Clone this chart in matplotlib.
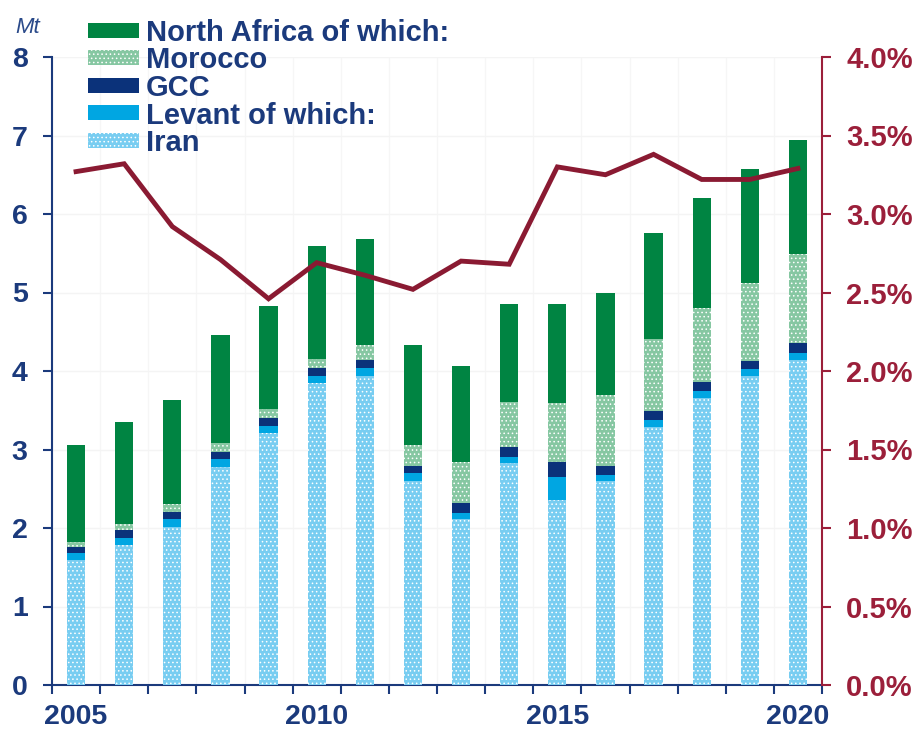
"""
Stacked bars by region (Mt) with share line on a secondary percent axis.
"""
import numpy as np
import matplotlib
matplotlib.use("Agg")
import matplotlib.pyplot as plt
from matplotlib.patches import Rectangle
from matplotlib.ticker import FuncFormatter, MultipleLocator

# ──────────────────────────────────────────────────────────────────────────────
# Data
years = list(range(2005, 2021))
iran = [1.59, 1.78, 2.01, 2.78, 3.21, 3.85, 3.94, 2.60, 2.11, 2.83, 2.36, 2.60,
        3.29, 3.66, 3.93, 4.14]
levant_other = [0.09, 0.09, 0.10, 0.10, 0.09, 0.09, 0.10, 0.10, 0.08, 0.08,
                0.29, 0.07, 0.09, 0.09, 0.10, 0.09]
gcc = [0.08, 0.10, 0.09, 0.09, 0.10, 0.10, 0.10, 0.09, 0.13, 0.12, 0.19, 0.12,
       0.11, 0.11, 0.10, 0.13]
morocco = [0.06, 0.08, 0.11, 0.11, 0.11, 0.11, 0.19, 0.27, 0.52, 0.58, 0.75,
           0.90, 0.92, 0.94, 0.99, 1.13]
north_africa_other = [1.24, 1.30, 1.32, 1.38, 1.32, 1.44, 1.35, 1.27, 1.22,
                      1.24, 1.26, 1.30, 1.35, 1.40, 1.45, 1.45]
share_pct = [3.27, 3.32, 2.92, 2.71, 2.46, 2.69, 2.61, 2.52, 2.70, 2.68, 3.30,
             3.25, 3.38, 3.22, 3.22, 3.29]
year_labels = ["2005", "2010", "2015", "2020"]
legend_labels = ["North Africa of which:", "Morocco", "GCC",
                 "Levant of which:", "Iran"]

# Colours
NAVY = "#1b3a7c"
RED = "#9b1f3a"
LINE_RED = "#8a1a32"
C_NA = "#008442"
C_MOR = "#86c7a2"
C_GCC = "#0b327a"
C_LEV = "#00a6e2"
C_IRAN = "#78cdf1"
# ──────────────────────────────────────────────────────────────────────────────

plt.rcParams["font.family"] = ["Liberation Sans", "DejaVu Sans"]
plt.rcParams["hatch.linewidth"] = 0.6

W, H = 922, 732
fig = plt.figure(figsize=(W / 100, H / 100), dpi=100)
ax = fig.add_axes([52 / W, 1 - 685 / H, 770 / W, 628 / H])

x = np.arange(len(years))
width = 0.38

# stack: Iran, rest of Levant, GCC, Morocco, rest of North Africa
series = [
    (iran, C_IRAN, "...."),
    (levant_other, C_LEV, None),
    (gcc, C_GCC, None),
    (morocco, C_MOR, "...."),
    (north_africa_other, C_NA, None),
]
bottom = np.zeros(len(years))
for vals, col, hatch in series:
    ax.bar(x, vals, width, bottom=bottom, color=col, hatch=hatch,
           edgecolor="white" if hatch else col, linewidth=0, zorder=3)
    bottom += np.array(vals)

ax.set_xlim(-0.5, len(years) - 0.5)
ax.set_ylim(0, 8)
ax.yaxis.set_major_locator(MultipleLocator(1))

# x ticks: labels every 5 years, tick marks between bars
ax.set_xticks([years.index(int(y)) for y in year_labels])
ax.set_xticklabels(year_labels)
ax.set_xticks(np.arange(-0.5, len(years)), minor=True)
ax.tick_params(axis="x", which="major", length=0, pad=14)
ax.tick_params(axis="x", which="minor", length=6.5, width=1.5, color=NAVY,
               direction="out")
ax.tick_params(axis="y", length=6.5, width=1.5, color=NAVY, direction="out",
               pad=11)
for lab in ax.get_xticklabels() + ax.get_yticklabels():
    lab.set_fontsize(20.5)
    lab.set_fontweight("bold")
    lab.set_color(NAVY)

ax.grid(True, which="major", axis="y", color="#f4f4f4", linewidth=1, zorder=0)
ax.grid(True, which="minor", axis="x", color="#f6f6f6", linewidth=1, zorder=0)

for side in ["top", "right"]:
    ax.spines[side].set_visible(False)
ax.spines["left"].set_color(NAVY)
ax.spines["bottom"].set_color(NAVY)
ax.spines["left"].set_linewidth(1.5)
ax.spines["bottom"].set_linewidth(1.5)

# secondary axis: share line
ax2 = ax.twinx()
ax2.plot(x, np.array(share_pct) / 100, color=LINE_RED, linewidth=3.5,
         solid_joinstyle="miter", zorder=5)
ax2.set_ylim(0, 0.04)
ax2.yaxis.set_major_locator(MultipleLocator(0.005))
ax2.yaxis.set_major_formatter(FuncFormatter(lambda v, _: f"{v * 100:.1f}%"))
ax2.tick_params(axis="y", length=6.5, width=1.5, color=RED, direction="out",
                pad=11)
for lab in ax2.get_yticklabels():
    lab.set_fontsize(21)
    lab.set_fontweight("bold")
    lab.set_color(RED)
for side in ["top", "left", "bottom"]:
    ax2.spines[side].set_visible(False)
ax2.spines["right"].set_color(RED)
ax2.spines["right"].set_linewidth(1.5)

# unit label
fig.text(15 / W, 1 - 33 / H, "Mt", fontsize=16, style="italic",
         color="#2a4a8a", ha="left", va="baseline")

# legend, drawn by hand to match the tight row spacing
styles = [(C_NA, None), (C_MOR, "...."), (C_GCC, None), (C_LEV, None),
          (C_IRAN, "....")]
for i, (label, (col, hatch)) in enumerate(zip(legend_labels, styles)):
    yc = 30 + 27.5 * i
    fig.add_artist(Rectangle((88 / W, 1 - (yc + 7.5) / H), 51 / W, 15 / H,
                             transform=fig.transFigure, facecolor=col,
                             hatch=hatch,
                             edgecolor="white" if hatch else col,
                             linewidth=0))
    fig.text(146 / W, 1 - yc / H, label, fontsize=21, fontweight="bold",
             color=NAVY, ha="left", va="center_baseline")

fig.savefig("out.png", dpi=100)
